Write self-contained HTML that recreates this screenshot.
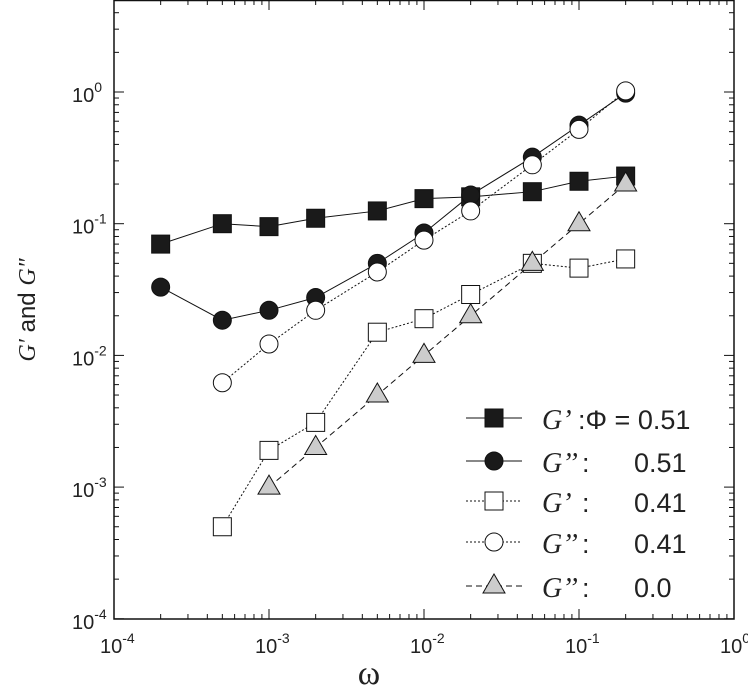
<!DOCTYPE html><html><head><style>body{margin:0;background:#fff}</style></head><body>
<svg id="s" width="748" height="693" xmlns="http://www.w3.org/2000/svg" font-family="Liberation Sans, sans-serif"></svg>
<script>
const s=document.getElementById('s');
const X0=114,DX=155,Y0=92,DY=131.7;
const px=v=>X0+(Math.log10(v)+4)*DX, py=v=>Y0-Math.log10(v)*DY;
let h='<rect x="114" y="0.5" width="620" height="618.5" fill="none" stroke="#111" stroke-width="1.5"/>';
for(let d=-4;d<0;d++)for(let m=1;m<10;m++){let v=m*Math.pow(10,d);let x=px(v),L=m==1?10:5;
 if(m>1||d>-4){h+=`<line x1="${x}" y1="619" x2="${x}" y2="${619-L}" stroke="#111"/><line x1="${x}" y1="0" x2="${x}" y2="${L}" stroke="#111"/>`;}
 let y=py(v);if(y>0&&y<619)h+=`<line x1="114" y1="${y}" x2="${114+L}" y2="${y}" stroke="#111"/><line x1="734" y1="${y}" x2="${734-L}" y2="${y}" stroke="#111"/>`;}
for(let m=1;m<10;m++){let y=py(m);if(y>0)h+=`<line x1="114" y1="${y}" x2="${114+(m==1?10:5)}" y2="${y}" stroke="#111"/><line x1="734" y1="${y}" x2="${734-(m==1?10:5)}" y2="${y}" stroke="#111"/>`;}
for(let d=-4;d<=0;d++){let y=py(Math.pow(10,d));h+=`<text x="72" y="${y+10}" font-size="20" fill="#222">10<tspan dy="-10" font-size="14">${d}</tspan></text>`;
 let x=px(Math.pow(10,d));h+=`<text x="${x-14}" y="653" font-size="20" fill="#222">10<tspan dy="-10" font-size="14">${d}</tspan></text>`;}
const S=[
 {d:[[2e-4,.07],[5e-4,.1],[1e-3,.095],[2e-3,.11],[5e-3,.125],[1e-2,.155],[2e-2,.16],[5e-2,.175],[.1,.21],[.2,.23]],m:'sq',f:'#1a1a1a',da:''},
 {d:[[2e-4,.033],[5e-4,.0185],[1e-3,.022],[2e-3,.0275],[5e-3,.05],[1e-2,.085],[2e-2,.165],[5e-2,.32],[.1,.56],[.2,.98]],m:'ci',f:'#1a1a1a',da:''},
 {d:[[5e-4,.0005],[1e-3,.0019],[2e-3,.0031],[5e-3,.015],[1e-2,.019],[2e-2,.029],[5e-2,.05],[.1,.046],[.2,.054]],m:'sq',f:'#fff',da:'2,2'},
 {d:[[5e-4,.0062],[1e-3,.0122],[2e-3,.022],[5e-3,.043],[1e-2,.075],[2e-2,.125],[5e-2,.28],[.1,.52],[.2,1.02]],m:'ci',f:'#fff',da:'2,2'},
 {d:[[1e-3,.001],[2e-3,.002],[5e-3,.005],[1e-2,.01],[2e-2,.02],[5e-2,.05],[.1,.1],[.2,.2]],m:'tr',f:'#ccc',da:'6,4'}];
const mk=(t,x,y,f)=>t=='sq'?`<rect x="${x-9}" y="${y-9}" width="18" height="18" fill="${f}" stroke="#111"/>`:t=='ci'?`<circle cx="${x}" cy="${y}" r="9" fill="${f}" stroke="#111"/>`:`<polygon points="${x},${y-12} ${x-11},${y+7} ${x+11},${y+7}" fill="${f}" stroke="#111"/>`;
S.forEach(o=>{h+=`<polyline fill="none" stroke="#111" stroke-dasharray="${o.da}" points="${o.d.map(p=>px(p[0])+','+py(p[1])).join(' ')}"/>`;});
S.forEach(o=>o.d.forEach(p=>h+=mk(o.m,px(p[0]),py(p[1]),o.f)));
const L=[["G’",":Φ = 0.51"],["G’’",":"],["G’",":"],["G’’",":"],["G’’",":"]],V=["","0.51","0.41","0.41","0.0"],Ys=[418,461,501,542,586];
S.forEach((o,i)=>{let y=Ys[i];h+=`<line x1="466" y1="${y}" x2="522" y2="${y}" stroke="#111" stroke-dasharray="${o.da}"/>`+mk(o.m,494,y,o.f);
 h+=`<text x="542" y="${y+11}" font-size="28" font-family="Liberation Serif,serif" font-style="italic" fill="#222">${L[i][0]}</text><text x="${i==0?578:582}" y="${y+11}" font-size="27" fill="#222">${L[i][1]}</text>`;
 if(V[i])h+=`<text x="634" y="${y+11}" font-size="27" fill="#222">${V[i]}</text>`;});
h+=`<text transform="translate(35,310) rotate(-90)" text-anchor="middle" font-size="24" fill="#222"><tspan font-family="Liberation Serif,serif" font-style="italic">G′</tspan> and <tspan font-family="Liberation Serif,serif" font-style="italic">G″</tspan></text>`;
h+=`<text x="369" y="684" text-anchor="middle" font-size="34" font-family="Liberation Serif,serif" fill="#222">ω</text>`;
s.innerHTML=h;
</script></body></html>
